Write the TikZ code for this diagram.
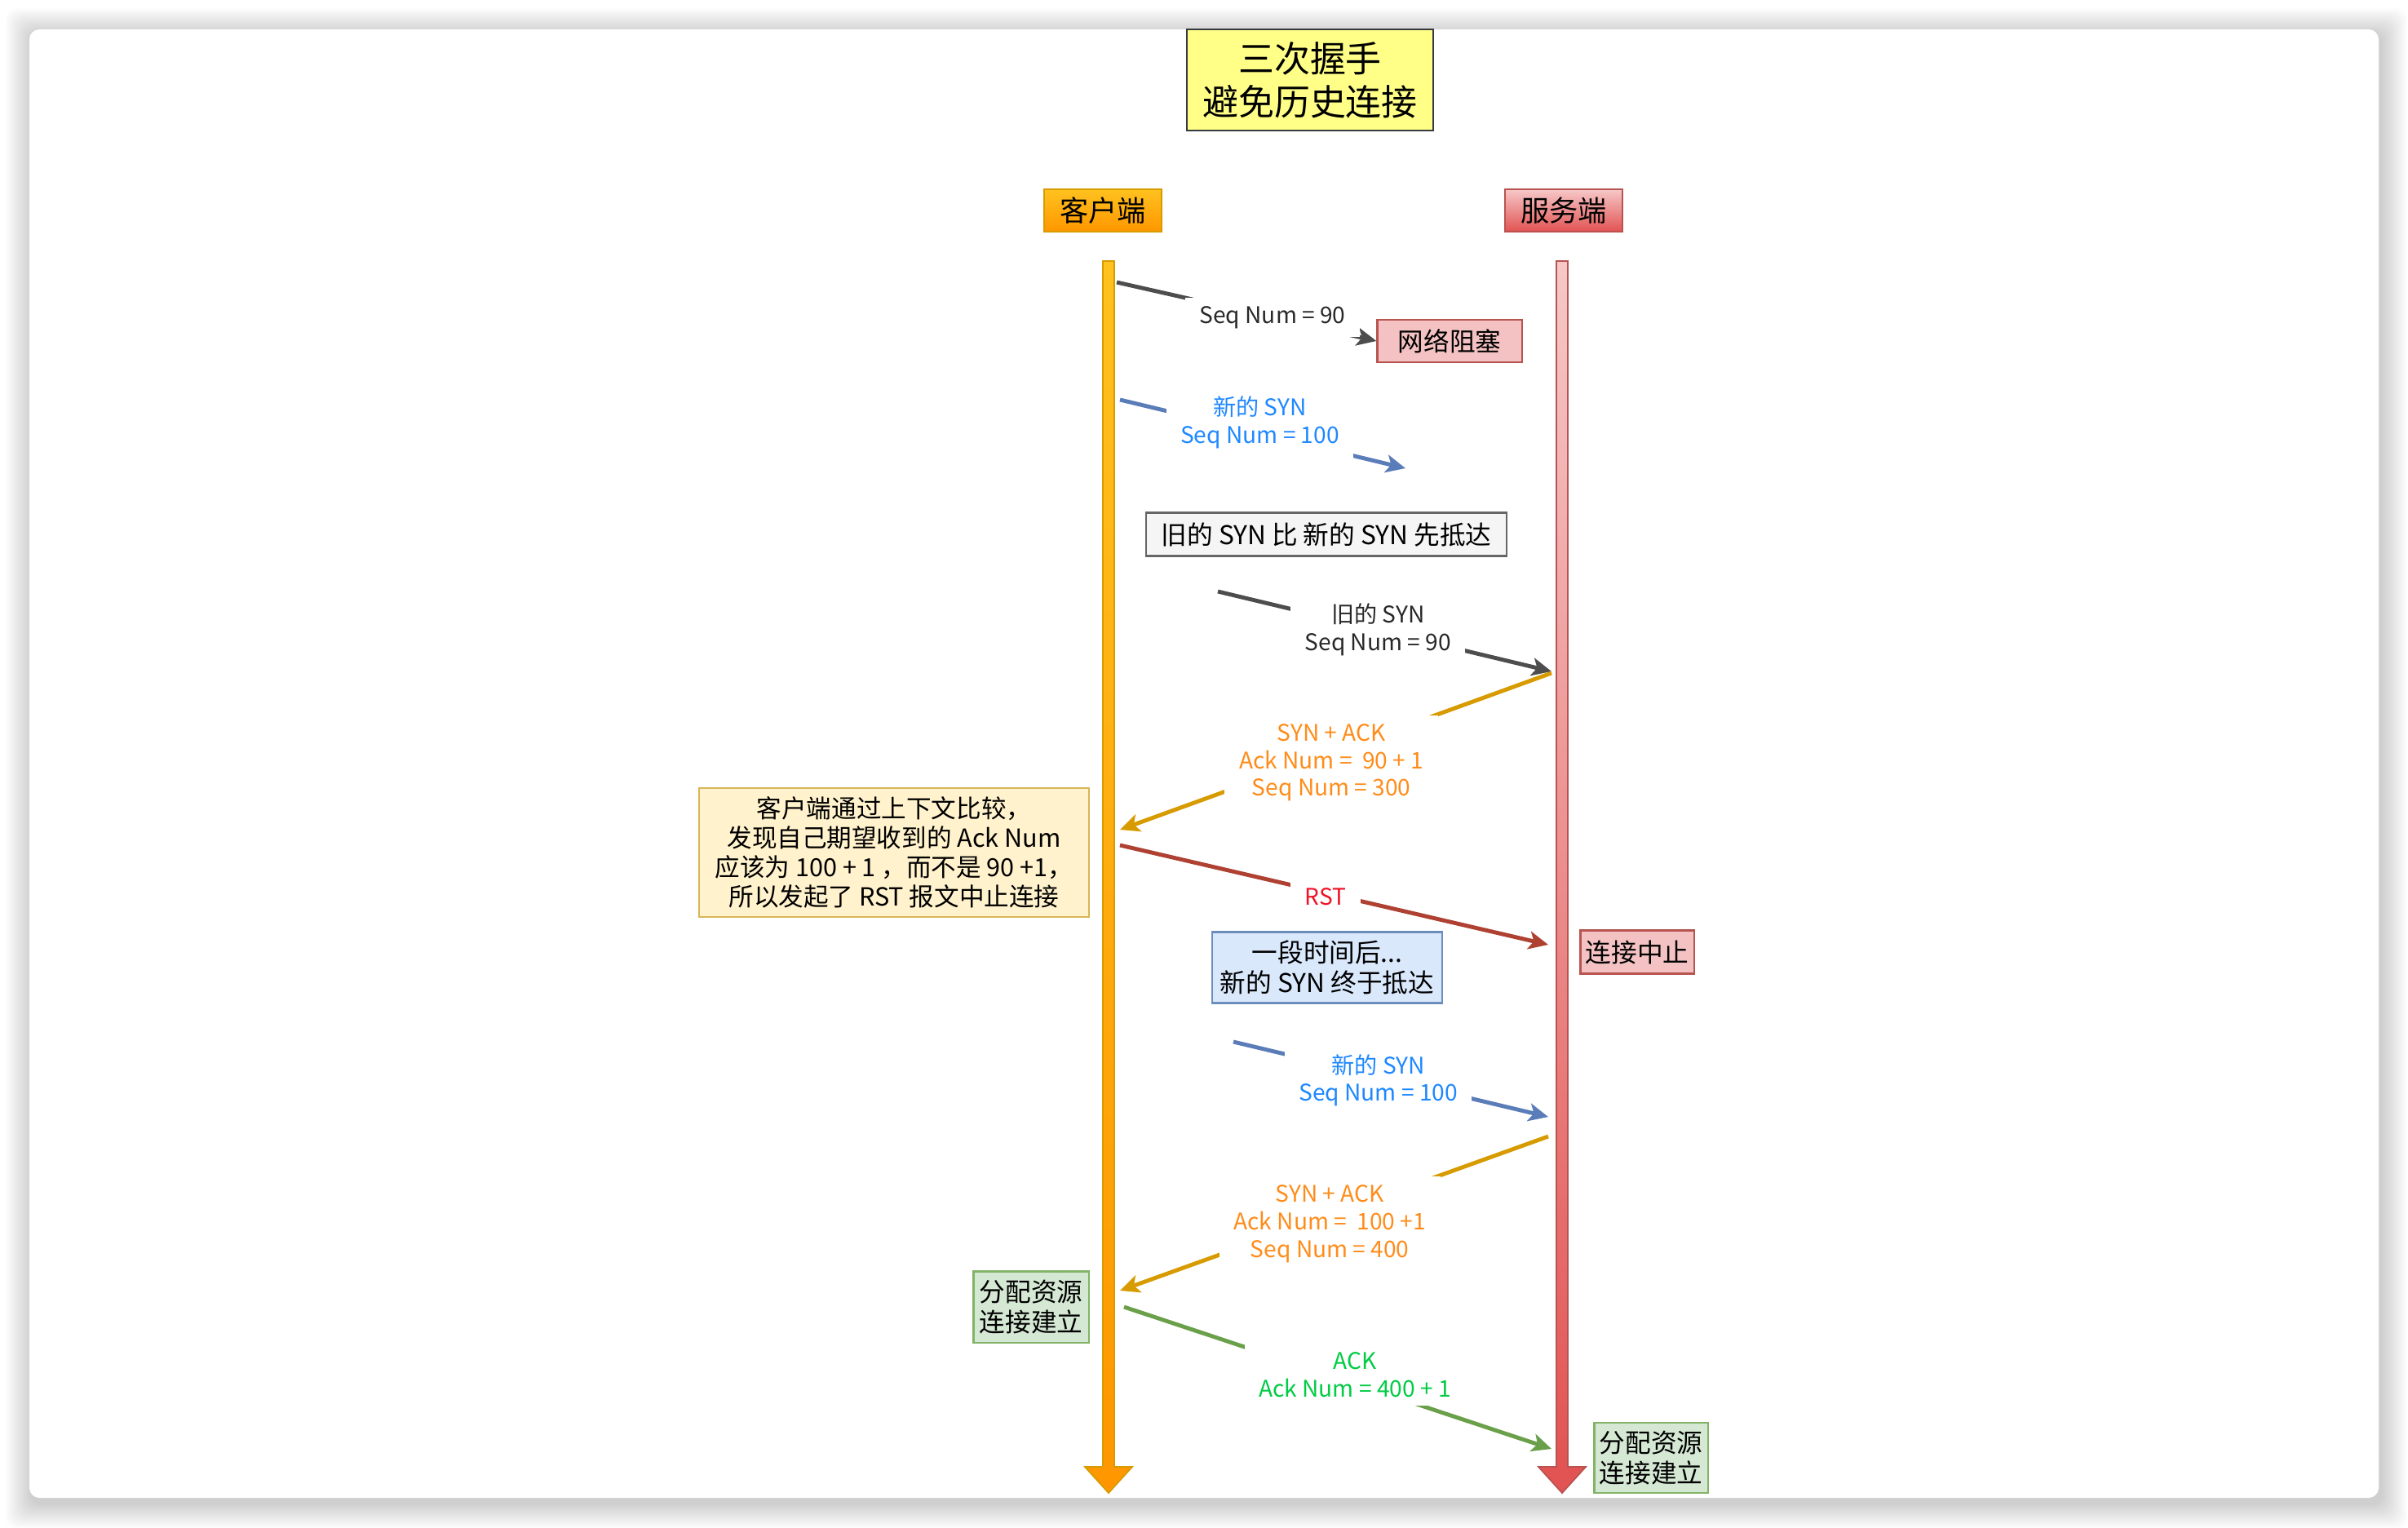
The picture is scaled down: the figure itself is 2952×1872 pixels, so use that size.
\documentclass[tikz,border=0pt]{standalone}
\usepackage{fontspec}
\setmainfont{Noto Sans CJK SC}
\usetikzlibrary{arrows.meta, positioning, calc}

\definecolor{cliTop}{RGB}{255,194,30}
\definecolor{cliBot}{RGB}{255,150,0}
\definecolor{cliLine}{RGB}{215,155,0}
\definecolor{srvTop}{RGB}{246,200,200}
\definecolor{srvBot}{RGB}{226,82,82}
\definecolor{srvLine}{RGB}{184,84,80}
\definecolor{lnDark}{RGB}{77,77,77}
\definecolor{lnBlue}{RGB}{90,125,185}
\definecolor{lnGold}{RGB}{215,155,0}
\definecolor{lnRst}{RGB}{174,65,50}
\definecolor{lnGreen}{RGB}{106,160,74}
\definecolor{txDark}{RGB}{40,40,40}
\definecolor{txBlue}{RGB}{30,136,255}
\definecolor{txOrange}{RGB}{255,140,26}
\definecolor{txRed}{RGB}{240,20,40}
\definecolor{txGreen}{RGB}{0,204,68}

\begin{document}
\begin{tikzpicture}[
	x=0.01cm, y=-0.01cm,
	every node/.style={font=\fontsize{9}{10.5}\selectfont, text=black},
	box/.style={rectangle, draw, line width=0.6pt, align=center, inner sep=1pt},
	lbl/.style={fill=white, align=center, inner xsep=5pt, inner ysep=3pt, font=\fontsize{8}{9.6}\selectfont},
	msg/.style={line width=1.4pt, -{Stealth[length=0.24cm, width=0.22cm, inset=0.06cm]}}
]

% Card and shadow
\useasboundingbox (0,0) rectangle (2952,1872);
\fill[white] (0,0) rectangle (2952,1872);
\foreach \r in {1,...,16}
	\fill[black, opacity=0.013, rounded corners=4pt] ({36-2*\r+3},{36-2*\r+6}) rectangle ({2916+2*\r+3},{1836+2*\r+6});
\fill[white, rounded corners=3.5pt] (36,36) rectangle (2916,1836);

% Title and headers
\node[box, fill={rgb,255:red,255;green,255;blue,136}, draw={rgb,255:red,54;green,57;blue,61}, minimum width=3.01cm, minimum height=1.24cm, font=\fontsize{12.5}{15}\selectfont] (title) at (1606,98) {三次握手\\避免历史连接};
\node[box, top color=cliTop, bottom color=cliBot, draw=cliLine, minimum width=1.44cm, minimum height=0.52cm, font=\fontsize{10}{12}\selectfont] (client) at (1352,258) {客户端};
\node[box, top color=srvTop, bottom color=srvBot, draw=srvLine, minimum width=1.44cm, minimum height=0.52cm, font=\fontsize{10}{12}\selectfont] (server) at (1917,258) {服务端};

% Lifelines
\shadedraw[top color=cliTop, bottom color=cliBot, draw=cliLine, line width=0.5pt]
	(1352,320) -- (1366,320) -- (1366,1798) -- (1388,1798) -- (1359,1830) -- (1330,1798) -- (1352,1798) -- cycle;
\shadedraw[top color=srvTop, bottom color=srvBot, draw=srvLine, line width=0.5pt]
	(1908,320) -- (1922,320) -- (1922,1798) -- (1944,1798) -- (1915,1830) -- (1886,1798) -- (1908,1798) -- cycle;

% Notes
\node[box, fill={rgb,255:red,244;green,194;blue,194}, draw=srvLine, minimum width=1.77cm, minimum height=0.52cm] (block) at (1777,418) {网络阻塞};
\node[box, fill={rgb,255:red,245;green,245;blue,245}, draw={rgb,255:red,102;green,102;blue,102}, minimum width=4.42cm, minimum height=0.53cm] (early) at (1626,655) {旧的 SYN 比 新的 SYN 先抵达};
\node[box, fill={rgb,255:red,255;green,242;blue,204}, draw={rgb,255:red,214;green,182;blue,86}, minimum width=4.78cm, minimum height=1.58cm, font=\fontsize{8.7}{10.2}\selectfont] (check) at (1096,1045) {客户端通过上下文比较，\\发现自己期望收到的 Ack Num\\应该为 100 + 1 ，而不是 90 +1，\\所以发起了 RST 报文中止连接};
\node[box, fill={rgb,255:red,244;green,194;blue,194}, draw=srvLine, minimum width=1.39cm, minimum height=0.53cm] (abort) at (2007,1167) {连接中止};
\node[box, fill={rgb,255:red,218;green,232;blue,252}, draw={rgb,255:red,108;green,142;blue,191}, minimum width=2.82cm, minimum height=0.87cm] (later) at (1627,1186) {一段时间后...\\新的 SYN 终于抵达};
\node[box, fill={rgb,255:red,213;green,232;blue,212}, draw={rgb,255:red,130;green,179;blue,102}, minimum width=1.41cm, minimum height=0.87cm] (allocC) at (1264,1602) {分配资源\\连接建立};
\node[box, fill={rgb,255:red,213;green,232;blue,212}, draw={rgb,255:red,130;green,179;blue,102}, minimum width=1.39cm, minimum height=0.86cm] (allocS) at (2024,1787) {分配资源\\连接建立};

% Message end points
\coordinate (c1) at (1369,346);
\coordinate (c2) at (1373,490);
\coordinate (lost) at (1723,574);
\coordinate (n3) at (1493,725);
\coordinate (s3) at (1902,823);
\coordinate (s4) at (1902,825);
\coordinate (c4) at (1373,1017);
\coordinate (c5) at (1373,1036);
\coordinate (s5) at (1898,1158);
\coordinate (n6) at (1512,1277);
\coordinate (s6) at (1898,1369);
\coordinate (s7) at (1898,1393);
\coordinate (c7) at (1373,1582);
\coordinate (c8) at (1378,1602);
\coordinate (s8) at (1902,1776);

% Messages
\draw[msg, lnDark] (c1) -- (block.west) node[lbl, pos=0.6, text=txDark] (old90) {Seq Num = 90};
\draw[msg, lnBlue] (c2) -- (lost) node[lbl, pos=0.49, yshift=0.13cm, text=txBlue] (new100) {新的 SYN\\Seq Num = 100};
\draw[msg, lnDark] (n3) -- (s3) node[lbl, pos=0.48, text=txDark] (oldsyn) {旧的 SYN\\Seq Num = 90};
\draw[msg, lnGold] (s4) -- (c4) node[lbl, pos=0.51, yshift=-0.12cm, text=txOrange] (synack1) {SYN + ACK\\Ack Num =\ \ 90 + 1\\Seq Num = 300};
\draw[msg, lnRst] (c5) -- (s5) node[lbl, pos=0.48, yshift=-0.05cm, text=txRed] (rst) {RST};
\draw[msg, lnBlue] (n6) -- (s6) node[lbl, pos=0.46, yshift=-0.05cm, text=txBlue] (newsyn) {新的 SYN\\Seq Num = 100};
\draw[msg, lnGold] (s7) -- (c7) node[lbl, pos=0.51, yshift=-0.11cm, text=txOrange] (synack2) {SYN + ACK\\Ack Num =\ \ 100 +1\\Seq Num = 400};
\draw[msg, lnGreen] (c8) -- (s8) node[lbl, pos=0.54, yshift=0.11cm, text=txGreen] (ack) {ACK\\Ack Num = 400 + 1};

\end{tikzpicture}
\end{document}
